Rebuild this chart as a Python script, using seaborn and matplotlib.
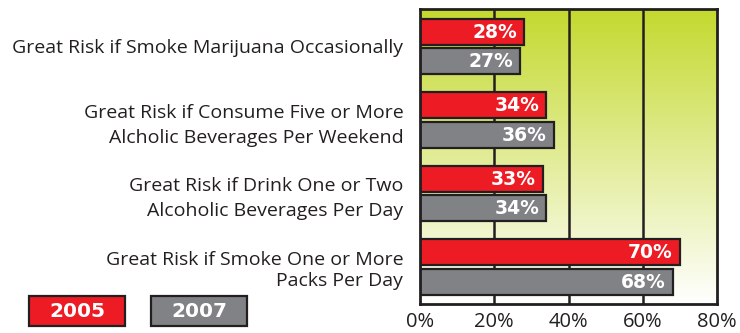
import numpy as np
import pandas as pd
import matplotlib
matplotlib.use("Agg")
import matplotlib.pyplot as plt
from matplotlib.patches import Rectangle
from matplotlib.colors import LinearSegmentedColormap
import seaborn as sns

categories = [
    "Great Risk if Smoke Marijuana Occasionally",
    "Great Risk if Consume Five or More\nAlcholic Beverages Per Weekend",
    "Great Risk if Drink One or Two\nAlcoholic Beverages Per Day",
    "Great Risk if Smoke One or More\nPacks Per Day",
]
years = ["2005", "2007"]
values_2005 = [28, 34, 33, 70]
values_2007 = [27, 36, 34, 68]
x_ticks = [0, 20, 40, 60, 80]
x_tick_labels = ["0%", "20%", "40%", "60%", "80%"]

RED = "#ed1c24"
GRAY = "#808285"
EDGE = "#231f20"

df = pd.DataFrame({
    "category": categories * 2,
    "year": [years[0]] * 4 + [years[1]] * 4,
    "value": values_2005 + values_2007,
})

sns.set_theme(style="white")
plt.rcParams["font.family"] = ["Open Sans", "DejaVu Sans"]

fig = plt.figure(figsize=(7.4, 3.33), dpi=100)
ax = fig.add_axes([0.5676, 0.0871, 0.4014, 0.8859])

sns.barplot(data=df, y="category", x="value", hue="year", hue_order=years,
            order=categories, palette=[RED, GRAY], orient="h", gap=0.12,
            saturation=1, edgecolor=EDGE, linewidth=1.6, legend=False,
            ax=ax, zorder=3)

# gradient background
cmap = LinearSegmentedColormap.from_list("bg", ["#c4d92e", "#ffffff"])
grad = np.linspace(0, 1, 256).reshape(-1, 1)
ax.imshow(grad, cmap=cmap, aspect="auto", extent=[0, 80, 3.505, -0.51],
          zorder=0, interpolation="bicubic")
ax.set_xlim(0, 80)
ax.set_ylim(3.505, -0.51)

for xv in x_ticks[1:-1]:
    ax.axvline(xv, color=EDGE, lw=1.8, zorder=1)

for cont in ax.containers:
    for bar in cont:
        w = bar.get_width()
        ax.annotate(f"{w:.0f}%", (w, bar.get_y() + bar.get_height() / 2),
                    xytext=(-5, -0.5), textcoords="offset points",
                    ha="right", va="center", color="white",
                    fontsize=13.5, fontweight="bold", family="DejaVu Sans",
                    zorder=5)

ax.set_xticks(x_ticks)
ax.set_xticklabels(x_tick_labels, fontsize=14.5, color="#231f20")
ax.tick_params(axis="y", length=0, pad=12, labelsize=14, labelcolor="#231f20")
ax.tick_params(axis="x", length=0, pad=6)
spacings = [1.5, 1.5, 1.5, 1.2]
for lab, sp in zip(ax.get_yticklabels(), spacings):
    lab.set_multialignment("right")
    lab.set_linespacing(sp)
ax.set_xlabel("")
ax.set_ylabel("")
for s in ax.spines.values():
    s.set_visible(True)
    s.set_color(EDGE)
    s.set_linewidth(2)
    s.set_zorder(6)

# legend boxes
for (x0, col, lab) in [(29, RED, years[0]), (151, GRAY, years[1])]:
    rect = Rectangle((x0 / 740, 1 - 326 / 333), 96 / 740, 30 / 333,
                     transform=fig.transFigure, facecolor=col,
                     edgecolor=EDGE, linewidth=1.6)
    fig.patches.append(rect)
    fig.text((x0 + 48) / 740, 1 - 311.5 / 333, lab, ha="center", va="center",
             color="white", fontsize=14.5, fontweight="bold",
             family="DejaVu Sans")

fig.savefig("out.png", dpi=100)
